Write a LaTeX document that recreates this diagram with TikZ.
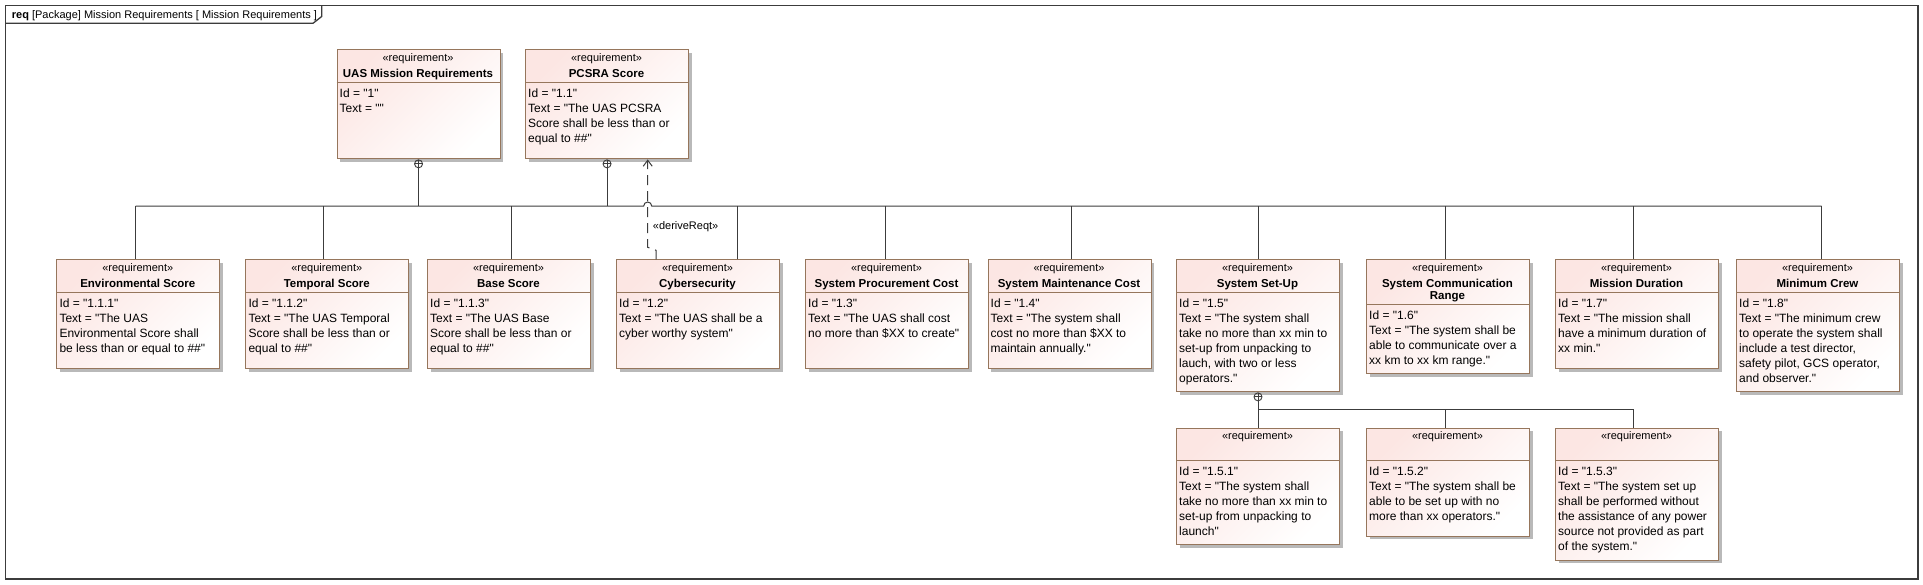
\documentclass[tikz,border=0pt]{standalone}
\usepackage{fontspec}
\newfontfamily\lsans{Liberation Sans}
\usetikzlibrary{arrows.meta,shadows}
\definecolor{reqborder}{RGB}{150,118,92}
\definecolor{reqpink}{RGB}{252,230,227}
\definecolor{linegray}{RGB}{60,60,60}
\definecolor{shadowgray}{RGB}{185,185,185}

% #1 name, #2 x, #3 y, #4 height, #5 header height, #6 title, #7 body
\newcommand\reqbox[7]{%
  \node[reqnode, minimum height=#4pt] (#1) at (#2,#3) {};
  \node[stereo] (#1-st) at (#2+81.5,#3+12.4) {«requirement»};
  \node[reqtitle] (#1-ti) at (#2+81.5,#3+19.9) {#6};
  \draw[sepline] (#2,#3+#5) -- (#2+163,#3+#5);
  \node[reqbody] (#1-bd) at (#2+3,#3+#5+6.05) {#7};
}
% vertical link from a box top (offset #2 from its left edge) to the bus
\newcommand\buslink[3]{%
  \draw[conn] ([xshift=#2pt]#1.north west) -- ([xshift=#2pt]#1.north west |- #3);
}

\begin{document}
\begin{tikzpicture}[x=1pt,y=-1pt,
  reqnode/.style={draw=reqborder, line width=1.1pt, top color=reqpink, bottom color=white,
    shading angle=45, drop shadow={shadow xshift=3pt, shadow yshift=-3pt, fill=shadowgray, opacity=1},
    rectangle, minimum width=163pt, inner sep=0pt, anchor=north west},
  stereo/.style={font=\lsans\fontsize{11}{13}\selectfont, inner sep=0pt, anchor=base},
  reqtitle/.style={font=\lsans\bfseries\fontsize{11.5}{12}\selectfont, inner sep=0pt, anchor=north, align=center},
  sepline/.style={draw=reqborder, line width=1.1pt},
  reqbody/.style={font=\lsans\fontsize{12}{15}\selectfont, inner sep=0pt, anchor=north west, align=left},
  conn/.style={draw=linegray, line width=1pt},
  contain/.style={draw=linegray, line width=0.9pt, circle, minimum size=8pt, inner sep=0pt, anchor=north,
    path picture={\draw[linegray, line width=0.8pt] (path picture bounding box.north) -- (path picture bounding box.south)
      (path picture bounding box.west) -- (path picture bounding box.east);}},
  deriv/.style={draw=linegray, line width=1pt, dash pattern=on 10pt off 6pt, -{Straight Barb[length=6pt,width=9pt]}},
  framestyle/.style={draw=linegray, line width=1.3pt},
  tabtext/.style={font=\lsans\fontsize{11}{13}\selectfont, inner sep=0pt, anchor=base west}
]
\useasboundingbox (0,0) rectangle (1923,584);

% frame
\draw[framestyle] (5.5,5.3) rectangle (1918,579);
\draw[framestyle] (5.5,23.3) -- (313,23.3) -- (321.7,16.5) -- (321.7,5.3);
\node[tabtext] (tab) at (11.7,18.7) {\textbf{req} [Package] Mission Requirements [ Mission Requirements ]};

% top level
\reqbox{uas}{336.5}{49.3}{109}{33}{UAS Mission Requirements}{Id = "1"\\Text = ""}
\reqbox{pcsra}{525}{49.3}{109}{33}{PCSRA Score}{Id = "1.1"\\Text = "The UAS PCSRA\\Score shall be less than or\\equal to \#\#"}

% second row
\reqbox{env}{56.3}{259.3}{109}{33}{Environmental Score}{Id = "1.1.1"\\Text = "The UAS\\Environmental Score shall\\be less than or equal to \#\#"}
\reqbox{temp}{245.3}{259.3}{109}{33}{Temporal Score}{Id = "1.1.2"\\Text = "The UAS Temporal\\Score shall be less than or\\equal to \#\#"}
\reqbox{base}{427}{259.3}{109}{33}{Base Score}{Id = "1.1.3"\\Text = "The UAS Base\\Score shall be less than or\\equal to \#\#"}
\reqbox{cyber}{616}{259.3}{109}{33}{Cybersecurity}{Id = "1.2"\\Text = "The UAS shall be a\\cyber worthy system"}
\reqbox{proc}{805}{259.3}{109}{33}{System Procurement Cost}{Id = "1.3"\\Text = "The UAS shall cost\\no more than \$XX to create"}
\reqbox{maint}{987.5}{259.3}{109}{33}{System Maintenance Cost}{Id = "1.4"\\Text = "The system shall\\cost no more than \$XX to\\maintain annually."}
\reqbox{setup}{1176}{259.3}{132}{33}{System Set-Up}{Id = "1.5"\\Text = "The system shall\\take no more than xx min to\\set-up from unpacking to\\lauch, with two or less\\operators."}
\reqbox{comm}{1366}{259.3}{114}{45}{System Communication\\Range}{Id = "1.6"\\Text = "The system shall be\\able to communicate over a\\xx km to xx km range."}
\reqbox{dur}{1555}{259.3}{109}{33}{Mission Duration}{Id = "1.7"\\Text = "The mission shall\\have a minimum duration of\\xx min."}
\reqbox{crew}{1736}{259.3}{132}{33}{Minimum Crew}{Id = "1.8"\\Text = "The minimum crew\\to operate the system shall\\include a test director,\\safety pilot, GCS operator,\\and observer."}

% third row
\reqbox{sa}{1176}{427.5}{116.5}{33}{}{Id = "1.5.1"\\Text = "The system shall\\take no more than xx min to\\set-up from unpacking to\\launch"}
\reqbox{sb}{1366}{427.5}{108}{33}{}{Id = "1.5.2"\\Text = "The system shall be\\able to be set up with no\\more than xx operators."}
\reqbox{sc}{1555}{427.5}{132}{33}{}{Id = "1.5.3"\\Text = "The system set up\\shall be performed without\\the assistance of any power\\source not provided as part\\of the system."}

% containment connectors
\coordinate (busy) at (0,206);
\coordinate (subbusy) at (0,409.3);
\node[contain] (uasc) at (uas.south) {};
\node[contain] (pcsrac) at (pcsra.south) {};
\node[contain] (setupc) at ([xshift=82pt]setup.south west) {};

\draw[conn] (uasc.south) -- (uasc.south |- busy);
\draw[conn] (pcsrac.south) -- (pcsrac.south |- busy);
\draw[conn] ([xshift=79.2pt]env.north west |- busy) -- (643.7,206) arc[start angle=180, end angle=0, radius=4pt] -- ([xshift=85.5pt]crew.north west |- busy);
\buslink{env}{79.2}{busy}
\buslink{temp}{77.7}{busy}
\buslink{base}{84}{busy}
\buslink{cyber}{121.6}{busy}
\buslink{proc}{80}{busy}
\buslink{maint}{84}{busy}
\buslink{setup}{82}{busy}
\buslink{comm}{79.5}{busy}
\buslink{dur}{78}{busy}
\buslink{crew}{85.5}{busy}

\draw[conn] (setupc.south) -- (setupc.south |- subbusy) -- ([xshift=78pt]sc.north west |- subbusy);
\buslink{sa}{82}{subbusy}
\buslink{sb}{79.5}{subbusy}
\buslink{sc}{78}{subbusy}

% deriveReqt
\draw[deriv] ([xshift=40pt]cyber.north west) -- ++(0,-9) -- ++(-8.3,-3) -- ([xshift=122.7pt]pcsra.south west);
\node[stereo, anchor=base west] (dlabel) at (652.7,229.6) {«deriveReqt»};
\end{tikzpicture}
\end{document}
